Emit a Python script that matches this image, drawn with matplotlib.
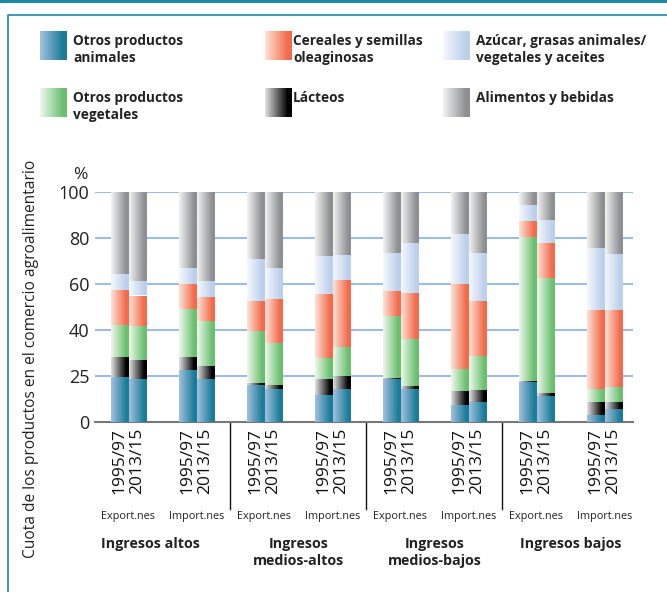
import numpy as np
import matplotlib.pyplot as plt
from matplotlib.colors import to_rgb

plt.rcParams['font.family'] = ['Open Sans', 'DejaVu Sans']

# categories (bottom -> top of each stack)
categories = ['Otros productos\nanimales', 'Lácteos', 'Otros productos\nvegetales',
              'Cereales y semillas\noleaginosas', 'Azúcar, grasas animales/\nvegetales y aceites',
              'Alimentos y bebidas']

groups = ['Ingresos altos', 'Ingresos\nmedios-altos', 'Ingresos\nmedios-bajos', 'Ingresos bajos']
flows = ['Export.nes', 'Import.nes']
years = ['1995/97', '2013/15']

# shares per bar, order: group x flow x year
animales   = [19.7, 18.8, 22.7, 18.8, 15.9, 14.5, 11.9, 14.5, 18.8, 14.5, 7.6, 8.5, 17.5, 11.5, 2.9, 5.5]
lacteos    = [8.6, 8.2, 5.6, 5.6, 0.9, 1.7, 6.9, 5.6, 0.5, 1.3, 6.0, 5.6, 0.5, 0.9, 6.0, 3.0]
vegetales  = [13.8, 14.8, 20.7, 19.4, 22.7, 18.1, 9.1, 12.5, 26.7, 20.3, 9.5, 14.8, 62.5, 50.0, 5.6, 6.9]
cereales   = [15.1, 13.2, 10.8, 10.4, 12.9, 19.0, 27.6, 29.3, 10.8, 20.2, 37.1, 23.5, 6.9, 15.5, 34.1, 33.2]
azucar     = [7.3, 6.1, 7.3, 7.3, 18.6, 13.8, 16.8, 10.8, 16.8, 21.6, 21.6, 21.2, 6.9, 9.9, 27.1, 24.5]
alimentos  = [35.5, 38.9, 32.9, 38.5, 29.0, 32.9, 27.7, 27.3, 26.4, 22.1, 18.2, 26.4, 5.7, 12.2, 24.3, 26.9]

series = [animales, lacteos, vegetales, cereales, azucar, alimentos]

# gradient colours (left, right)
grads = [('#a3c0e0', '#1b7c98'),
         ('#e2e2e2', '#000000'),
         ('#eef8ec', '#6bbf70'),
         ('#fee2d6', '#f26b4b'),
         ('#f5f8fd', '#bcd0ec'),
         ('#f2f2f2', '#8e8f92')]

yticks = [0, 20, 40, 60, 80, 100]
yticklabels = ['0', '25', '40', '60', '80', '100']

teal = '#1b8aa8'


def gradient(c0, c1, n=64):
    a = np.array(to_rgb(c0))
    b = np.array(to_rgb(c1))
    t = np.clip(np.linspace(0, 1, n) / 0.85, 0, 1)[:, None]
    return (a + (b - a) * t)[None, :, :]


fig = plt.figure(figsize=(6.67, 5.92), dpi=100)

# frame
fig.add_artist(plt.Line2D([0, 1], [0.9975, 0.9975], color=teal, lw=2.2))
fig.add_artist(plt.Line2D([8 / 667, 8 / 667, 1.0], [0, 1 - 15 / 592, 1 - 15 / 592], color=teal, lw=1.2))

ax = fig.add_axes([95 / 667, 170 / 592, 538 / 667, 230 / 592])

x = []
for g in range(len(groups)):
    for f in range(len(flows)):
        c = g * 2 + f
        x += [c - 0.13, c + 0.13]
x = np.array(x)

bottom = np.zeros(len(x))
for vals, (c0, c1) in zip(series, grads):
    bars = ax.bar(x, vals, width=0.25, bottom=bottom, color='none', edgecolor='none', zorder=2)
    img = gradient(c0, c1)
    for p in bars.patches:
        x0, y0 = p.get_x(), p.get_y()
        im = ax.imshow(img, extent=[x0, x0 + p.get_width(), y0, y0 + p.get_height()],
                       aspect='auto', zorder=3, interpolation='bilinear')
        im.set_clip_path(p)
    bottom += np.array(vals)

ax.set_xlim(-0.49, 7.42)
ax.set_ylim(0, 100)
ax.set_yticks(yticks)
ax.set_yticklabels(yticklabels, fontsize=13, color='#222222')
ax.tick_params(axis='y', length=0, pad=4)
ax.set_xticks([])
for y in yticks[1:]:
    ax.axhline(y, color='#9dbde6', lw=1.5, zorder=1)
for s in ['top', 'right', 'left']:
    ax.spines[s].set_visible(False)
ax.spines['bottom'].set_color('#777777')
ax.spines['bottom'].set_linewidth(1.5)
ax.set_zorder(1)

tr = ax.get_xaxis_transform()
for i, xi in enumerate(x):
    ax.text(xi, -0.025, years[i % 2], rotation=90, ha='center', va='top',
            fontsize=12.5, color='#111111', transform=tr)
for c in range(len(groups) * 2):
    ax.text(c, -0.385, flows[c % 2], ha='center', va='top', fontsize=7.8,
            color='#222222', transform=tr)
group_x = [0.32, 2.5, 4.5, 6.5]
for gx, name in zip(group_x, groups):
    ax.text(gx, -0.5, name, ha='center', va='top', fontsize=10.3,
            fontweight='bold', color='#222222', transform=tr, linespacing=1.3)
for d in [1.5, 3.5, 5.5]:
    ax.plot([d, d], [0, -0.38], color='#111111', lw=1, transform=tr, clip_on=False)

ax.text(-22 / 538, 1.04, '%', transform=ax.transAxes, fontsize=12.5, ha='left', va='bottom',
        color='#222222')
fig.text(31 / 667, 1 - 359 / 592, 'Cuota de los productos en el comercio agroalimentario',
         rotation=90, ha='center', va='center', fontsize=11.2, color='#222222')

# legend
sw_x = [40, 265, 443]
tx_x = [73, 293, 476]
row_y = [31, 88]
leg_order = [0, 3, 4, 2, 1, 5]
for k, ci in enumerate(leg_order):
    r, col = divmod(k, 3)
    sax = fig.add_axes([sw_x[col] / 667, 1 - (row_y[r] + 29) / 592, 27 / 667, 29 / 592])
    sax.imshow(gradient(*grads[ci]), aspect='auto', extent=[0, 1, 0, 1], interpolation='bilinear')
    sax.axis('off')
    fig.text(tx_x[col] / 667, 1 - (row_y[r] + 3) / 592, categories[ci], ha='left', va='top',
             fontsize=9.8, fontweight='bold', color='#222222', linespacing=1.3)

fig.savefig('out.png', dpi=100)
